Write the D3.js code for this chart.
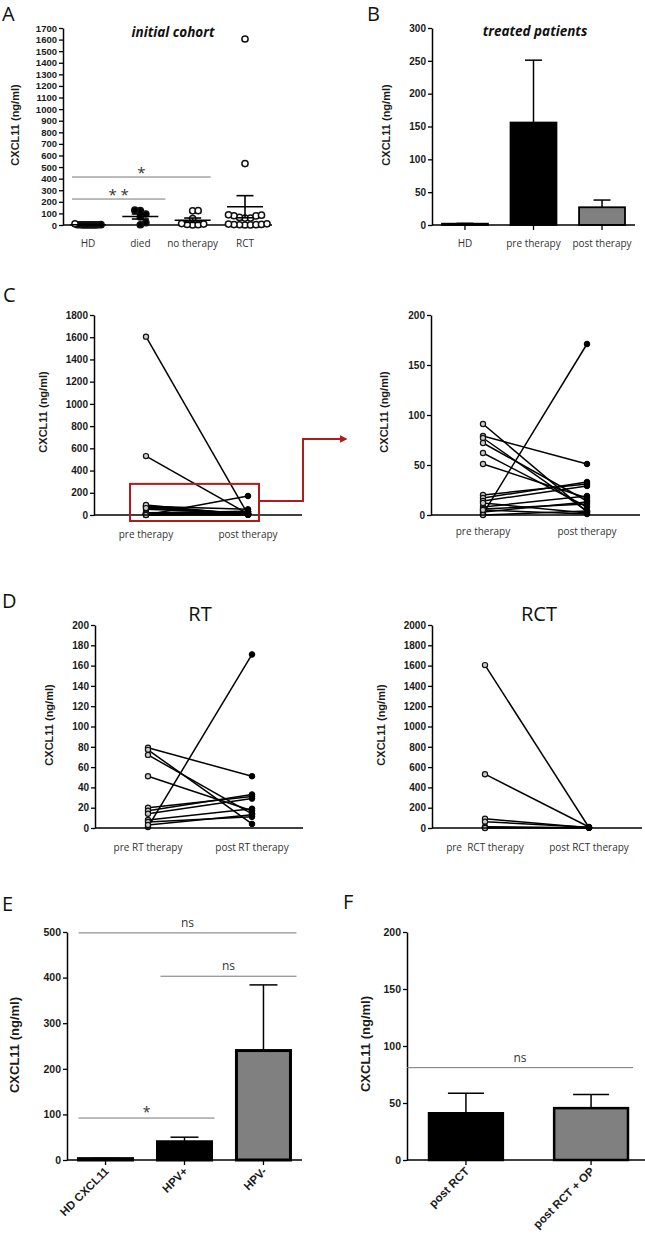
<!DOCTYPE html>
<html><head><meta charset="utf-8">
<script src="https://cdn.jsdelivr.net/npm/d3@7"></script>
<style>
body{margin:0;background:#fff}
svg{display:block}
</style></head><body>
<svg id="c" width="645" height="1240"></svg>
<script>
// ---------------- DATA ----------------
// Panel A: initial cohort (individual values, ng/ml)
const aCats = ["HD", "died", "no therapy", "RCT"];
const aHD = [1, 1, 1, 2, 1, 2, 1, 1, 2, 3, 10];
const aDied = [128, 125, 95, 70, 20, 2];
const aNoTherapy = [124, 122, 55, 12, 8, 5, 3, 1];
const aRCT = [1605, 530, 88, 85, 80, 78, 65, 60, 60, 10, 8, 5, 4, 3, 2, 1, 0];
const aTicks = d3.range(0, 1701, 100);

// Panel B: treated patients (mean, upper error)
const bCats = ["HD", "pre therapy", "post therapy"];
const bMean = [2, 156, 27];
const bErrTop = [2.5, 251, 38];
const bTicks = [0, 50, 100, 150, 200, 250, 300];

// Panels C/D: paired values pre -> post
const rtPre  = [1, 79, 77, 72, 51, 20, 17, 14, 8, 6, 3];
const rtPost = [171, 51, 4, 14, 17, 31, 33, 29, 19, 11, 13];
const rctPre  = [1605, 530, 91, 62, 12, 5, 0];
const rctPost = [5, 10, 3, 8, 2, 1, 4];
const cCats = ["pre therapy", "post therapy"];
const rtCats = ["pre RT therapy", "post RT therapy"];
const rctCats = ["pre  RCT therapy", "post RCT therapy"];
const cLeftTicks = d3.range(0, 1801, 200);
const cRightTicks = [0, 50, 100, 150, 200];
const dRTTicks = d3.range(0, 201, 20);
const dRCTTicks = d3.range(0, 2001, 200);

// Panel E: HPV status
const eCats = ["HD CXCL11", "HPV+", "HPV-"];
const eMean = [3, 40, 240];
const eErrTop = [3.5, 50, 384];
const eTicks = [0, 100, 200, 300, 400, 500];

// Panel F
const fCats = ["post RCT", "post RCT + OP"];
const fMean = [41, 45.5];
const fErrTop = [58.5, 57.5];
const fTicks = [0, 50, 100, 150, 200];

// ---------------- HELPERS ----------------
const svg = d3.select("#c");
const NUMF = "'Liberation Sans', Arial, sans-serif";
const CATF = "'Open Sans', sans-serif";
const YLAB = "CXCL11 (ng/ml)";

function yAxis(x, y, ticks, fs) {
  const ax = svg.append("g").attr("transform", `translate(${x},0)`)
    .call(d3.axisLeft(y).tickValues(ticks).tickSize(4).tickSizeOuter(0).tickPadding(2).tickFormat(d3.format("d")));
  ax.select(".domain").attr("stroke", "#000").attr("stroke-width", 1.5);
  ax.selectAll(".tick line").attr("stroke", "#000").attr("stroke-width", 1.3);
  ax.selectAll(".tick text").attr("font-family", NUMF).attr("font-weight", "bold")
    .attr("font-size", fs).attr("fill", "#1a1a1a");
  return ax;
}
function baseline(x0, x1, yPix) {
  svg.append("line").attr("x1", x0).attr("x2", x1).attr("y1", yPix).attr("y2", yPix)
    .attr("stroke", "#000").attr("stroke-width", 1.5);
}
function yLabel(x, cy, fs) {
  svg.append("text").attr("transform", `translate(${x},${cy}) rotate(-90)`)
    .attr("text-anchor", "middle").attr("dominant-baseline", "middle")
    .attr("font-family", NUMF).attr("font-weight", "bold").attr("font-size", fs)
    .attr("fill", "#1a1a1a").text(YLAB);
}
function panelLetter(t, x, y) {
  svg.append("text").attr("x", x).attr("y", y).attr("font-family", CATF)
    .attr("font-size", 20).attr("fill", "#111").text(t);
}
function catLabels(xs, cats, yPix) {
  svg.append("g").selectAll("text").data(cats).join("text")
    .attr("x", d => xs(d)).attr("y", yPix).attr("text-anchor", "middle")
    .attr("font-family", CATF).attr("font-size", 10).attr("fill", "#333")
    .style("white-space", "pre").text(d => d);
}
function sig(x0, x1, yPix, label, fs, dy) {
  svg.append("line").attr("x1", x0).attr("x2", x1).attr("y1", yPix).attr("y2", yPix)
    .attr("stroke", "#777").attr("stroke-width", 1);
  svg.append("text").attr("x", (x0 + x1) / 2).attr("y", yPix - dy).attr("text-anchor", "middle")
    .attr("font-family", CATF).attr("font-size", fs).attr("fill", "#333").text(label);
}
// simple horizontal spreading of overlapping points (layout only)
function swarm(values, cx, y, minDist) {
  const placed = [];
  values.map(v => v).sort((a, b) => a - b).forEach(v => {
    const py = y(v);
    for (let j = 0; j < 60; j++) {
      const k = j === 0 ? 0 : (j % 2 ? Math.ceil(j / 2) : -j / 2);
      const px = cx + k * minDist;
      if (placed.every(q => Math.hypot(q.x - px, q.y - py) >= minDist - 0.01)) {
        placed.push({ x: px, y: py, v }); break;
      }
    }
  });
  return placed;
}

// ---------------- PANEL A ----------------
panelLetter("A", 2, 21);
{
  const y = d3.scaleLinear().domain([0, 1700]).range([225, 28]);
  const x = d3.scalePoint().domain(aCats).range([88, 245]);
  yAxis(63, y, aTicks, 9.5);
  baseline(63, 272, y(0));
  yLabel(16, 125, 11);
  svg.append("text").attr("x", 173).attr("y", 37).attr("text-anchor", "middle")
    .attr("font-family", CATF).attr("font-weight", "bold").attr("font-style", "italic")
    .attr("font-size", 13.5).attr("fill", "#111").text("initial cohort");
  catLabels(x, aCats, 247);
  const groups = [aHD, aDied, aNoTherapy, aRCT];
  const filled = [true, true, false, false];
  const spread = [2.6, 5.5, 5.5, 5.5];
  groups.forEach((vals, i) => {
    const cx = x(aCats[i]);
    const m = d3.mean(vals), sem = d3.deviation(vals) / Math.sqrt(vals.length);
    const pts = swarm(vals, cx, y, spread[i]);
    svg.append("g").selectAll("circle").data(pts).join("circle")
      .attr("cx", d => d.x).attr("cy", d => d.y).attr("r", 3.1)
      .attr("fill", (d, j) => (filled[i] && !(i === 0 && d.v === d3.max(vals))) ? "#000" : "#fff")
      .attr("stroke", "#111").attr("stroke-width", 1.5);
    const g = svg.append("g").attr("stroke", "#000").attr("stroke-width", 1.6);
    g.append("line").attr("x1", cx - 18).attr("x2", cx + 18).attr("y1", y(m)).attr("y2", y(m));
    g.append("line").attr("x1", cx).attr("x2", cx).attr("y1", y(Math.max(0, m - sem))).attr("y2", y(m + sem));
    g.append("line").attr("x1", cx - 8.5).attr("x2", cx + 8.5).attr("y1", y(m + sem)).attr("y2", y(m + sem));
    g.append("line").attr("x1", cx - 8.5).attr("x2", cx + 8.5).attr("y1", y(Math.max(0, m - sem))).attr("y2", y(Math.max(0, m - sem)));
  });
  sig(x("HD") - 16, x("died") + 25, y(224), "* *", 15, -1);
  sig(x("HD") - 16, x("no therapy") + 18, y(414), "*", 15, -1);
}

// ---------------- BAR HELPER ----------------
function bars(opts) {
  const { cats, mean, errTop, y, x, fills, sw, cap } = opts;
  cats.forEach((c, i) => {
    const x0 = x(c), bw = x.bandwidth();
    svg.append("line").attr("x1", x0 + bw / 2).attr("x2", x0 + bw / 2)
      .attr("y1", y(mean[i])).attr("y2", y(errTop[i])).attr("stroke", "#000").attr("stroke-width", 1.5);
    svg.append("line").attr("x1", x0 + bw / 2 - cap / 2).attr("x2", x0 + bw / 2 + cap / 2)
      .attr("y1", y(errTop[i])).attr("y2", y(errTop[i])).attr("stroke", "#000").attr("stroke-width", 1.5);
  });
  svg.append("g").selectAll("rect").data(cats).join("rect")
    .attr("x", d => x(d)).attr("width", x.bandwidth())
    .attr("y", (d, i) => y(mean[i])).attr("height", (d, i) => y(0) - y(mean[i]))
    .attr("fill", (d, i) => fills[i]).attr("stroke", "#000").attr("stroke-width", sw);
}
function xTicks(x, cats, yPix) {
  svg.append("g").selectAll("line").data(cats).join("line")
    .attr("x1", d => x(d) + x.bandwidth() / 2).attr("x2", d => x(d) + x.bandwidth() / 2)
    .attr("y1", yPix).attr("y2", yPix + 5).attr("stroke", "#000").attr("stroke-width", 1.3);
}

// ---------------- PANEL B ----------------
panelLetter("B", 367, 21);
{
  const y = d3.scaleLinear().domain([0, 300]).range([225, 28]);
  const x = d3.scaleBand().domain(bCats).range([432, 635]).paddingInner(0.33).paddingOuter(0.146);
  svg.append("text").attr("x", 535).attr("y", 36).attr("text-anchor", "middle")
    .attr("font-family", CATF).attr("font-weight", "bold").attr("font-style", "italic")
    .attr("font-size", 13.5).attr("fill", "#111").text("treated patients");
  bars({ cats: bCats, mean: bMean, errTop: bErrTop, y, x, fills: ["#000", "#000", "#808080"], sw: 1.8, cap: 17 });
  yAxis(432, y, bTicks, 10);
  baseline(432, 635, y(0));
  xTicks(x, bCats, y(0));
  yLabel(387, 125, 11);
  svg.append("g").selectAll("text").data(bCats).join("text")
    .attr("x", d => x(d) + x.bandwidth() / 2).attr("y", 247).attr("text-anchor", "middle")
    .attr("font-family", CATF).attr("font-size", 10).attr("fill", "#333").text(d => d);
}

// ---------------- PAIRED HELPER ----------------
function paired(opts) {
  const { pre, post, x, y, cats } = opts;
  const pairs = pre.map((p, i) => ({ p, q: post[i] })).filter(d => y.domain()[1] >= Math.max(d.p, d.q));
  svg.append("g").selectAll("line").data(pairs).join("line")
    .attr("x1", x(cats[0])).attr("x2", x(cats[1]))
    .attr("y1", d => y(d.p)).attr("y2", d => y(d.q))
    .attr("stroke", "#000").attr("stroke-width", 1.5);
  svg.append("g").selectAll("circle").data(pairs).join("circle")
    .attr("cx", x(cats[0])).attr("cy", d => y(d.p)).attr("r", 2.6)
    .attr("fill", "#ccc").attr("stroke", "#111").attr("stroke-width", 1.2);
  svg.append("g").selectAll("circle").data(pairs).join("circle")
    .attr("cx", x(cats[1])).attr("cy", d => y(d.q)).attr("r", 2.8)
    .attr("fill", "#000").attr("stroke", "#000").attr("stroke-width", 1);
}
const allPre = rtPre.concat(rctPre);
const allPost = rtPost.concat(rctPost);

// ---------------- PANEL C ----------------
panelLetter("C", 3, 302);
{
  const y = d3.scaleLinear().domain([0, 1800]).range([515, 315]);
  const x = d3.scalePoint().domain(cCats).range([146, 248]);
  paired({ pre: allPre, post: allPost, x, y, cats: cCats });
  yAxis(94, y, cLeftTicks, 10);
  baseline(94, 302, y(0));
  yLabel(44, 412, 11);
  catLabels(x, cCats, 538);
  // red zoom box + arrow
  const red = "#b01c1c";
  svg.append("rect").attr("x", x(cCats[0]) - 16).attr("y", y(280))
    .attr("width", x(cCats[1]) - x(cCats[0]) + 27).attr("height", y(0) - y(280) + 6)
    .attr("fill", "none").attr("stroke", red).attr("stroke-width", 2);
  svg.append("defs").append("marker").attr("id", "arr").attr("viewBox", "0 0 10 10")
    .attr("refX", 8).attr("refY", 5).attr("markerWidth", 4).attr("markerHeight", 4)
    .attr("orient", "auto").append("path").attr("d", "M0,0L10,5L0,10Z").attr("fill", red);
  const bx = x(cCats[1]) + 11, by = y(125);
  svg.append("path").attr("d", `M${bx},${by}H303V439H346`).attr("fill", "none")
    .attr("stroke", red).attr("stroke-width", 2).attr("marker-end", "url(#arr)");
}
{
  const y = d3.scaleLinear().domain([0, 200]).range([515, 315]);
  const x = d3.scalePoint().domain(cCats).range([483, 587]);
  paired({ pre: allPre, post: allPost, x, y, cats: cCats });
  yAxis(431, y, cRightTicks, 10);
  baseline(431, 640, y(0));
  yLabel(385, 412, 11);
  catLabels(x, cCats, 535);
}

// ---------------- PANEL D ----------------
panelLetter("D", 2, 608);
{
  const y = d3.scaleLinear().domain([0, 200]).range([828, 625]);
  const x = d3.scalePoint().domain(rtCats).range([148, 252]);
  svg.append("text").attr("x", 200).attr("y", 621).attr("text-anchor", "middle")
    .attr("font-family", CATF).attr("font-size", 20).attr("fill", "#111").text("RT");
  paired({ pre: rtPre, post: rtPost, x, y, cats: rtCats });
  yAxis(95, y, dRTTicks, 10);
  baseline(95, 303, y(0));
  yLabel(50, 725, 11);
  catLabels(x, rtCats, 851);
}
{
  const y = d3.scaleLinear().domain([0, 2000]).range([828, 625]);
  const x = d3.scalePoint().domain(rctCats).range([485, 589]);
  svg.append("text").attr("x", 539).attr("y", 621).attr("text-anchor", "middle")
    .attr("font-family", CATF).attr("font-size", 20).attr("fill", "#111").text("RCT");
  paired({ pre: rctPre, post: rctPost, x, y, cats: rctCats });
  yAxis(432, y, dRCTTicks, 10);
  baseline(432, 642, y(0));
  yLabel(382, 725, 11);
  catLabels(x, rctCats, 851);
}

// ---------------- PANEL E ----------------
panelLetter("E", 2, 911);
function rotLabels(x, cats, yPix, fs) {
  svg.append("g").selectAll("text").data(cats).join("text")
    .attr("transform", d => `translate(${x(d) + x.bandwidth() / 2 + 4},${yPix}) rotate(-45)`)
    .attr("text-anchor", "end").attr("font-family", NUMF).attr("font-weight", "bold")
    .attr("font-size", fs).attr("fill", "#1a1a1a").text(d => d);
}
{
  const y = d3.scaleLinear().domain([0, 500]).range([1160, 932]);
  const x = d3.scaleBand().domain(eCats).range([67, 302]).paddingInner(0.316).paddingOuter(0.146);
  bars({ cats: eCats, mean: eMean, errTop: eErrTop, y, x, fills: ["#000", "#000", "#808080"], sw: 3, cap: 28 });
  yAxis(67, y, eTicks, 10.5);
  baseline(67, 302, y(0));
  xTicks(x, eCats, y(0));
  yLabel(16, 1045, 13);
  rotLabels(x, eCats, 1172, 11.5);
  sig(x("HD CXCL11"), x("HPV-") + x.bandwidth() + 6, y(498), "ns", 12, 6);
  sig(x("HPV+") + 3, x("HPV-") + x.bandwidth() + 6, y(403), "ns", 12, 6);
  sig(x("HD CXCL11"), x("HPV+") + x.bandwidth() + 3, y(92), "*", 14, 1);
}

// ---------------- PANEL F ----------------
panelLetter("F", 343, 909);
{
  const y = d3.scaleLinear().domain([0, 200]).range([1160, 932]);
  const x = d3.scaleBand().domain(fCats).range([407, 650]).paddingInner(0.41).paddingOuter(0.176);
  bars({ cats: fCats, mean: fMean, errTop: fErrTop, y, x, fills: ["#000", "#808080"], sw: 2.5, cap: 36 });
  yAxis(407, y, fTicks, 10.5);
  baseline(407, 645, y(0));
  xTicks(x, fCats, y(0));
  yLabel(367, 1044, 13);
  rotLabels(x, fCats, 1172, 11.5);
  sig(407, 633, y(81), "ns", 12, 6);
}
</script>
</body></html>
